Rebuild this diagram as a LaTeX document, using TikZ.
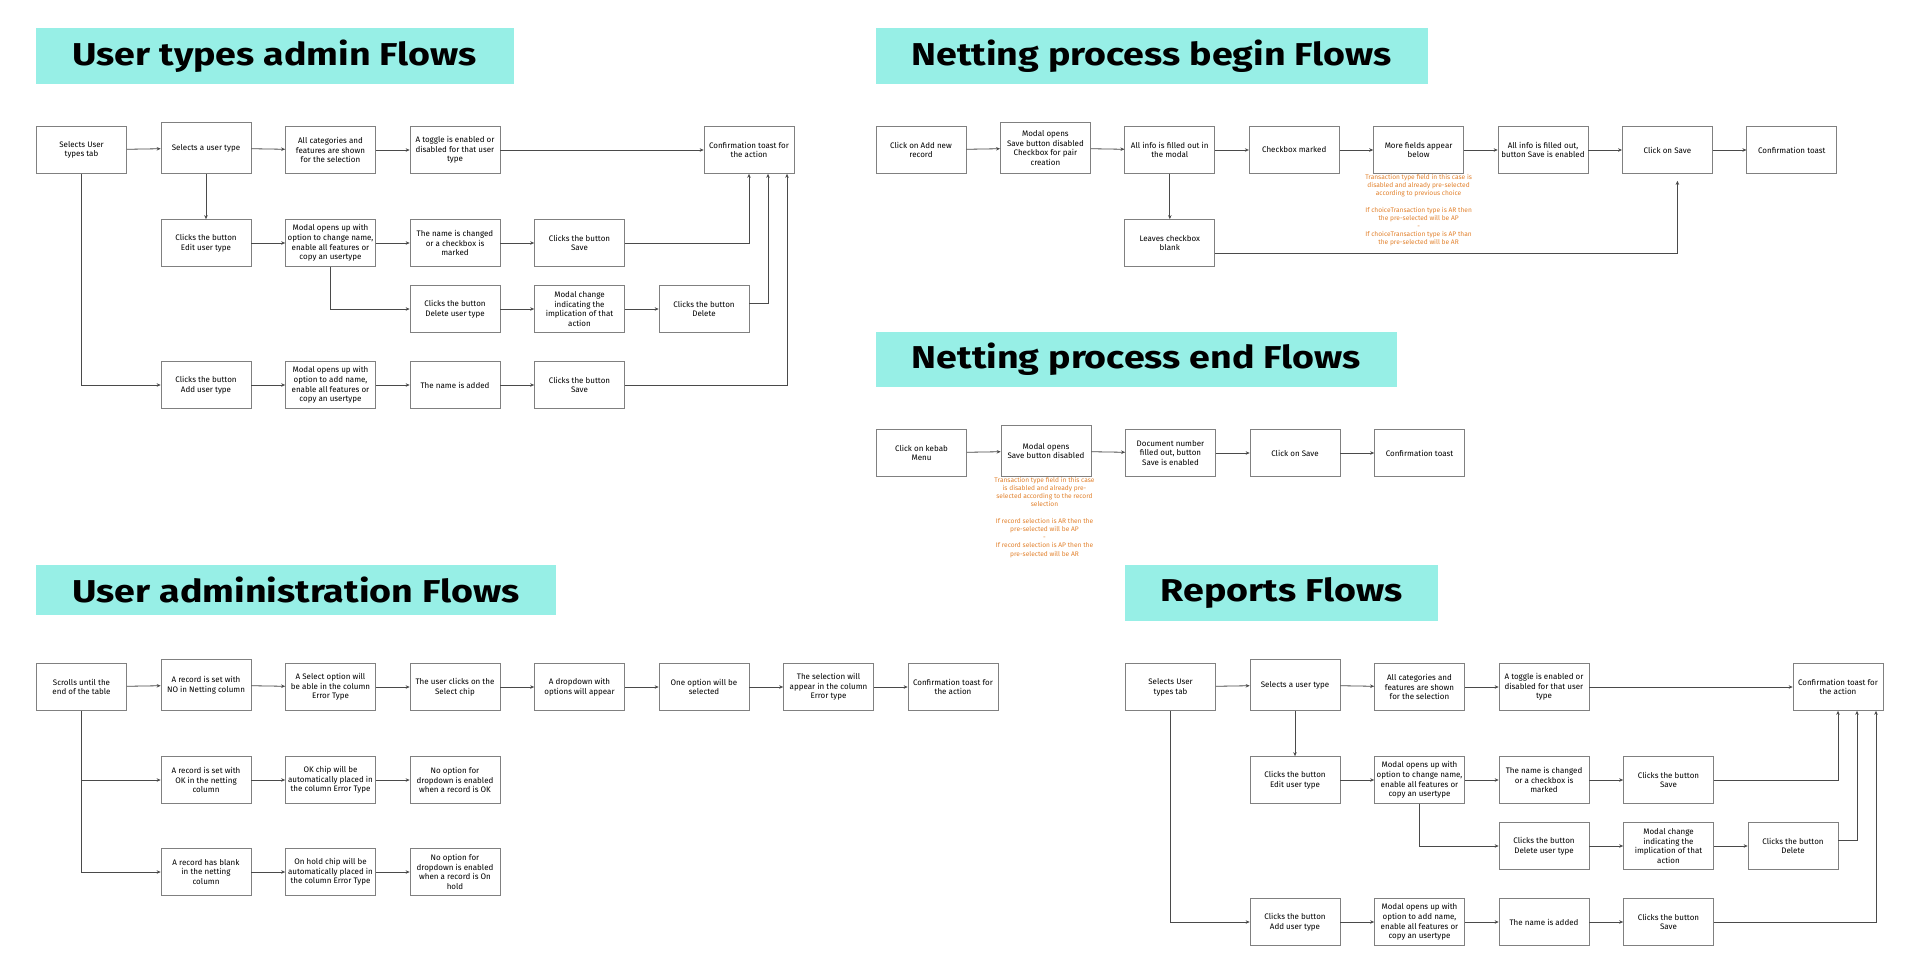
\documentclass[tikz,border=0pt]{standalone}
\usepackage{fontspec}
\setmainfont{Fira Sans}
\newfontfamily\headfont[FakeStretch=1.19]{Fira Sans}
\usetikzlibrary{arrows.meta}
\definecolor{titlecyan}{HTML}{97EFE6}
\definecolor{noteorange}{HTML}{E2812C}
\definecolor{edgegray}{HTML}{4A4A4A}

\begin{document}
\begin{tikzpicture}[x=1pt,y=-1pt,
  box/.style={shape=rectangle,draw=black!50,line width=0.7pt,minimum width=90pt,minimum height=47pt,inner sep=1pt,align=center,font=\fontsize{8}{9.7}\selectfont},
  tall/.style={minimum height=51pt},
  title/.style={fill=titlecyan,minimum height=56pt,inner sep=0pt,font=\headfont\bfseries\fontsize{31.6}{31.6}\selectfont},
  note/.style={text=noteorange,align=center,inner sep=0pt,anchor=north,font=\fontsize{6.6}{8.2}\selectfont},
  flow/.style={draw=edgegray,line width=0.8pt,-{Stealth[length=4pt,width=3.5pt]}}]

\useasboundingbox[fill=white] (0,0) rectangle (1920,974);

% titles
\node[title,minimum width=478.5pt] (t1) at (274.8,56.3){User types admin Flows};
\node[title,minimum width=551.5pt] (t2) at (1151.8,56){Netting process begin Flows};
\node[title,minimum width=521pt,minimum height=55pt] (t3) at (1136.5,359.2){Netting process end Flows};
\node[title,minimum width=519.7pt,minimum height=50pt] (t4) at (295.9,590){User administration Flows};
\node[title,minimum width=313pt] (t5) at (1281.5,593){Reports Flows};

% user types admin
\node[box] (1) at (81.5,150){Selects User\\types tab};
\node[box,tall] (2) at (206,148){Selects a user type};
\node[box] (3) at (330.5,150){All categories and\\features are shown\\for the selection};
\node[box] (4) at (455,150){A toggle is enabled or\\disabled for that user\\type};
\node[box] (5) at (749,150){Confirmation toast for\\the action};
\node[box] (6) at (206,243){Clicks the button\\Edit user type};
\node[box] (7) at (330.5,243){Modal opens up with\\option to change name,\\enable all features or\\copy an usertype};
\node[box] (8) at (455,243){The name is changed\\or a checkbox is\\marked};
\node[box] (9) at (579.5,243){Clicks the button\\Save};
\node[box] (10) at (455,309){Clicks the button\\Delete user type};
\node[box] (11) at (579.5,309){Modal change\\indicating the\\implication of that\\action};
\node[box] (12) at (704,309){Clicks the button\\Delete};
\node[box] (13) at (206,385){Clicks the button\\Add user type};
\node[box] (14) at (330.5,385){Modal opens up with\\option to add name,\\enable all features or\\copy an usertype};
\node[box] (15) at (455,385){The name is added};
\node[box] (16) at (579.5,385){Clicks the button\\Save};
\draw[flow] (1) -- (2);
\draw[flow] (2) -- (3);
\draw[flow] (3) -- (4);
\draw[flow] (4) -- (5);
\draw[flow] (2) -- (6);
\draw[flow] (6) -- (7);
\draw[flow] (7) -- (8);
\draw[flow] (8) -- (9);
\draw[flow] (9) -| (5);
\draw[flow] (7) |- (10);
\draw[flow] (10) -- (11);
\draw[flow] (11) -- (12);
\draw[flow] ([yshift=6pt]12.east) -| ([xshift=19pt]5.south);
\draw[flow] (1) |- (13);
\draw[flow] (13) -- (14);
\draw[flow] (14) -- (15);
\draw[flow] (15) -- (16);
\draw[flow] (16) -| ([xshift=38pt]5.south);

% netting process begin
\node[box] (21) at (921,150){Click on Add new\\record};
\node[box,tall] (22) at (1045.4,148){Modal opens\\Save button disabled\\Checkbox for pair\\creation};
\node[box] (23) at (1169.8,150){All info is filled out in\\the modal};
\node[box] (24) at (1294.2,150){Checkbox marked};
\node[box] (25) at (1418.6,150){More fields appear\\below};
\node[box] (26) at (1543,150){All info is filled out,\\button Save is enabled};
\node[box] (27) at (1667.4,150){Click on Save};
\node[box] (28) at (1791.8,150){Confirmation toast};
\node[box] (29) at (1169.8,243){Leaves checkbox\\blank};
\node[note] (n1) at (1418.6,174){Transaction type field in this case is\\disabled and already pre-selected\\according to previous choice\\ \\If choiceTransaction type is AR then\\the pre-selected will be AP\\-\\If choiceTransaction type is AP than\\the pre-selected will be AR};
\draw[flow] (21) -- (22);
\draw[flow] (22) -- (23);
\draw[flow] (23) -- (24);
\draw[flow] (24) -- (25);
\draw[flow] (25) -- (26);
\draw[flow] (26) -- (27);
\draw[flow] (27) -- (28);
\draw[flow] (23) -- (29);
\draw[flow] ([yshift=-10pt]29.east) -| ([xshift=10pt,yshift=-7pt]27.south);

% netting process end
\node[box] (31) at (921.5,453){Click on kebab\\Menu};
\node[box,tall] (32) at (1046,451){Modal opens\\Save button disabled};
\node[box] (33) at (1170.5,453){Document number\\filled out, button\\Save is enabled};
\node[box] (34) at (1295,453){Click on Save};
\node[box] (35) at (1419.5,453){Confirmation toast};
\node[note] (n2) at (1044.5,477){Transaction type field in this case\\is disabled and already pre-\\selected according to the record\\selection\\ \\If record selection is AR then the\\pre-selected will be AP\\-\\If record selection is AP then the\\pre-selected will be AR};
\draw[flow] (31) -- (32);
\draw[flow] (32) -- (33);
\draw[flow] (33) -- (34);
\draw[flow] (34) -- (35);

% user administration
\node[box] (41) at (81.5,687){Scrolls until the\\end of the table};
\node[box,tall] (42) at (206,685){A record is set with\\NO in Netting column};
\node[box] (43) at (330.5,687){A Select option will\\be able in the column\\Error Type};
\node[box] (44) at (455,687){The user clicks on the\\Select chip};
\node[box] (45) at (579.5,687){A dropdown with\\options will appear};
\node[box] (46) at (704,687){One option will be\\selected};
\node[box] (47) at (828.5,687){The selection will\\appear in the column\\Error type};
\node[box] (48) at (953,687){Confirmation toast for\\the action};
\node[box] (49) at (206,780){A record is set with\\OK in the netting\\column};
\node[box] (50) at (330.5,780){OK chip will be\\automatically placed in\\the column Error Type};
\node[box] (51) at (455,780){No option for\\dropdown is enabled\\when a record is OK};
\node[box] (52) at (206,872){A record has blank\\in the netting\\column};
\node[box] (53) at (330.5,872){On hold chip will be\\automatically placed in\\the column Error Type};
\node[box] (54) at (455,872){No option for\\dropdown is enabled\\when a record is On\\hold};
\draw[flow] (41) -- (42);
\draw[flow] (42) -- (43);
\draw[flow] (43) -- (44);
\draw[flow] (44) -- (45);
\draw[flow] (45) -- (46);
\draw[flow] (46) -- (47);
\draw[flow] (47) -- (48);
\draw[flow] (41) |- (49);
\draw[flow] (41) |- (52);
\draw[flow] (49) -- (50);
\draw[flow] (50) -- (51);
\draw[flow] (52) -- (53);
\draw[flow] (53) -- (54);

% reports
\node[box] (61) at (1170.5,687){Selects User\\types tab};
\node[box,tall] (62) at (1295,685){Selects a user type};
\node[box] (63) at (1419.5,687){All categories and\\features are shown\\for the selection};
\node[box] (64) at (1544,687){A toggle is enabled or\\disabled for that user\\type};
\node[box] (65) at (1838,687){Confirmation toast for\\the action};
\node[box] (66) at (1295,780){Clicks the button\\Edit user type};
\node[box] (67) at (1419.5,780){Modal opens up with\\option to change name,\\enable all features or\\copy an usertype};
\node[box] (68) at (1544,780){The name is changed\\or a checkbox is\\marked};
\node[box] (69) at (1668.5,780){Clicks the button\\Save};
\node[box] (70) at (1544,846){Clicks the button\\Delete user type};
\node[box] (71) at (1668.5,846){Modal change\\indicating the\\implication of that\\action};
\node[box] (72) at (1793,846){Clicks the button\\Delete};
\node[box] (73) at (1295,922){Clicks the button\\Add user type};
\node[box] (74) at (1419.5,922){Modal opens up with\\option to add name,\\enable all features or\\copy an usertype};
\node[box] (75) at (1544,922){The name is added};
\node[box] (76) at (1668.5,922){Clicks the button\\Save};
\draw[flow] (61) -- (62);
\draw[flow] (62) -- (63);
\draw[flow] (63) -- (64);
\draw[flow] (64) -- (65);
\draw[flow] (62) -- (66);
\draw[flow] (66) -- (67);
\draw[flow] (67) -- (68);
\draw[flow] (68) -- (69);
\draw[flow] (69) -| (65);
\draw[flow] (67) |- (70);
\draw[flow] (70) -- (71);
\draw[flow] (71) -- (72);
\draw[flow] ([yshift=6pt]72.east) -| ([xshift=19pt]65.south);
\draw[flow] (61) |- (73);
\draw[flow] (73) -- (74);
\draw[flow] (74) -- (75);
\draw[flow] (75) -- (76);
\draw[flow] (76) -| ([xshift=38pt]65.south);

\end{tikzpicture}
\end{document}
